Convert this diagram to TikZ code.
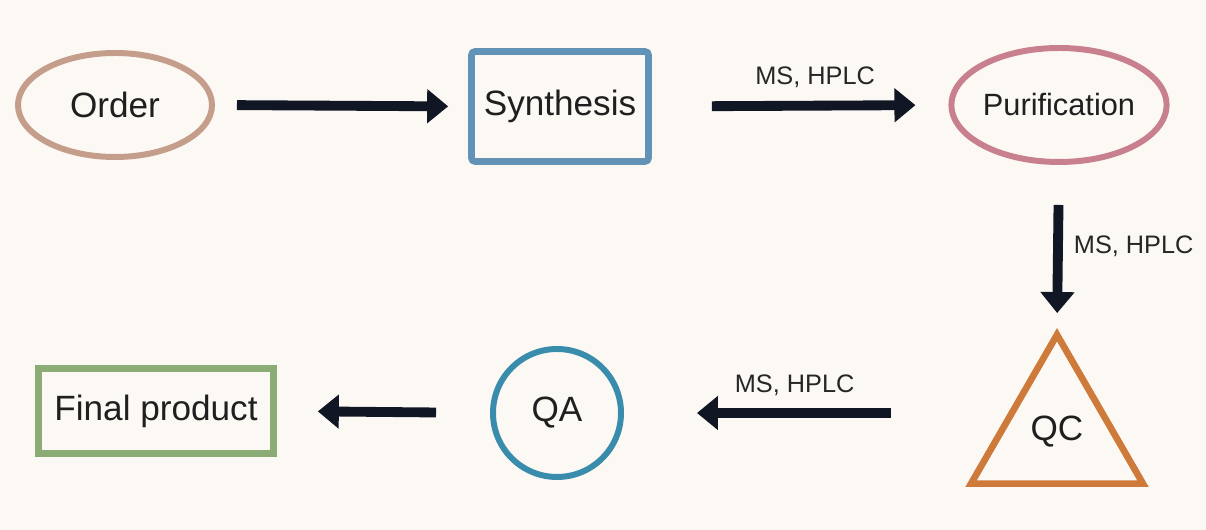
\documentclass[tikz,border=0pt]{standalone}
\usepackage{fontspec}
\setmainfont{Liberation Sans}
\usetikzlibrary{arrows.meta,shapes.geometric}
\definecolor{paper}{RGB}{252,248,244}
\definecolor{ink}{RGB}{16,22,36}
\definecolor{ordercol}{RGB}{196,158,138}
\definecolor{synthcol}{RGB}{98,146,182}
\definecolor{puricol}{RGB}{200,128,142}
\definecolor{qccol}{RGB}{206,122,58}
\definecolor{qacol}{RGB}{58,140,172}
\definecolor{finalcol}{RGB}{140,172,118}

\begin{document}
\begin{tikzpicture}[
  every node/.style={inner sep=0pt, text=black!88, font=\fontsize{20}{24}\selectfont},
  flow/.style={draw=ink, line width=5.6pt, -{Triangle[length=0.42cm,width=0.66cm]}},
  lbl/.style={text=black!85, font=\fontsize{14.4}{17}\selectfont}]
\fill[paper] (0,0) rectangle (24.12,10.6);
\useasboundingbox (0,0) rectangle (24.12,10.6);

\node[ellipse, draw=ordercol, line width=3.4pt, minimum width=3.88cm, minimum height=2.08cm] (order) at (2.30,8.50) {Order};
\node[rectangle, rounded corners=2pt, draw=synthcol, line width=3.8pt, minimum width=3.54cm, minimum height=2.2cm] (synth) at (11.20,8.47) {Synthesis};
\node[ellipse, draw=puricol, line width=3.4pt, minimum width=3.92cm, minimum height=2.28cm, font=\fontsize{17.5}{21}\selectfont] (puri) at (21.18,8.50) {Purification};
\node[regular polygon, regular polygon sides=3, draw=qccol, line width=3.8pt, minimum size=3.97cm] (qc) at (21.14,1.92) {};
\node (qctext) at (21.14,1.96) {QC};
\node[circle, draw=qacol, line width=3.4pt, minimum size=2.56cm] (qa) at (11.14,2.34) {QA};
\node[rectangle, draw=finalcol, line width=3.8pt, minimum width=4.7cm, minimum height=1.7cm] (final) at (3.12,2.38) {Final product};

\draw[flow, shorten <=0.44cm, shorten >=0.40cm] (order.east) -- (synth.west);
\draw[flow, shorten <=1.20cm, shorten >=0.66cm] (synth.east) -- (puri.west) node[lbl, midway, above=0.26cm, xshift=0.3cm] (lab1) {MS, HPLC};
\draw[flow, shorten <=0.80cm, shorten >=0.30cm] (puri.south) -- (qc.corner 1) node[lbl, pos=0.5, right=0.22cm] (lab2) {MS, HPLC};
\draw[flow, shorten <=1.48cm, shorten >=1.46cm] (qc.corner 2 |- qa.east) -- (qa.east) node[lbl, midway, above=0.24cm] (lab3) {MS, HPLC};
\draw[flow, shorten <=1.08cm, shorten >=0.82cm] (qa.west) -- (final.east);
\end{tikzpicture}
\end{document}
